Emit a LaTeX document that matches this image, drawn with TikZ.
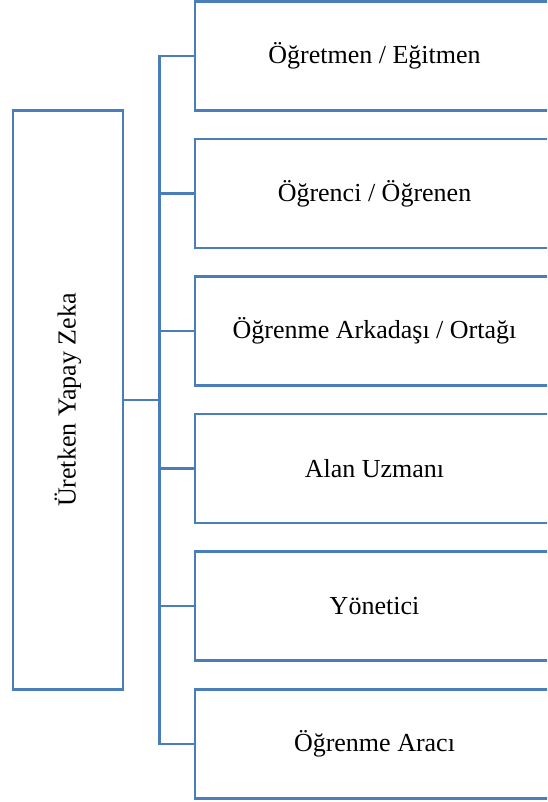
\documentclass[tikz,border=0pt]{standalone}
\usepackage{fontspec}
\setmainfont{Liberation Serif}
\definecolor{lineblue}{HTML}{4A7EBB}
\begin{document}
\begin{tikzpicture}[x=1pt,y=-1pt,
  boxstyle/.style={draw=lineblue,line width=2.2pt,fill=white,inner sep=0pt,
    minimum width=359pt,minimum height=109pt,font=\fontsize{26}{30}\selectfont},
  mainbox/.style={draw=lineblue,line width=2.2pt,inner sep=0pt,
    minimum width=110pt,minimum height=579pt},
  conn/.style={draw=lineblue,line width=2.2pt}]
\useasboundingbox (0,0) rectangle (547,802);
\clip (0,0) rectangle (547,802);
\node[mainbox] (L) at (68,400) {};
\node[rotate=90,font=\fontsize{26}{30}\selectfont] (Lt) at (68,400) {Üretken Yapay Zeka};
\coordinate (j) at (159.5,400);
\draw[conn] (L.east) -- (j);
\node[boxstyle] (b1) at (374.5,56) {Öğretmen / Eğitmen};
\node[boxstyle] (b2) at (374.5,193.5) {Öğrenci / Öğrenen};
\node[boxstyle] (b3) at (374.5,331) {Öğrenme Arkadaşı / Ortağı};
\node[boxstyle] (b4) at (374.5,468.5) {Alan Uzmanı};
\node[boxstyle] (b5) at (374.5,606) {Yönetici};
\node[boxstyle] (b6) at (374.5,744) {Öğrenme Aracı};
\foreach \b in {b1,b2,b3,b4,b5,b6}{
  \draw[conn] (j) |- (\b.west);
}
\end{tikzpicture}
\end{document}
